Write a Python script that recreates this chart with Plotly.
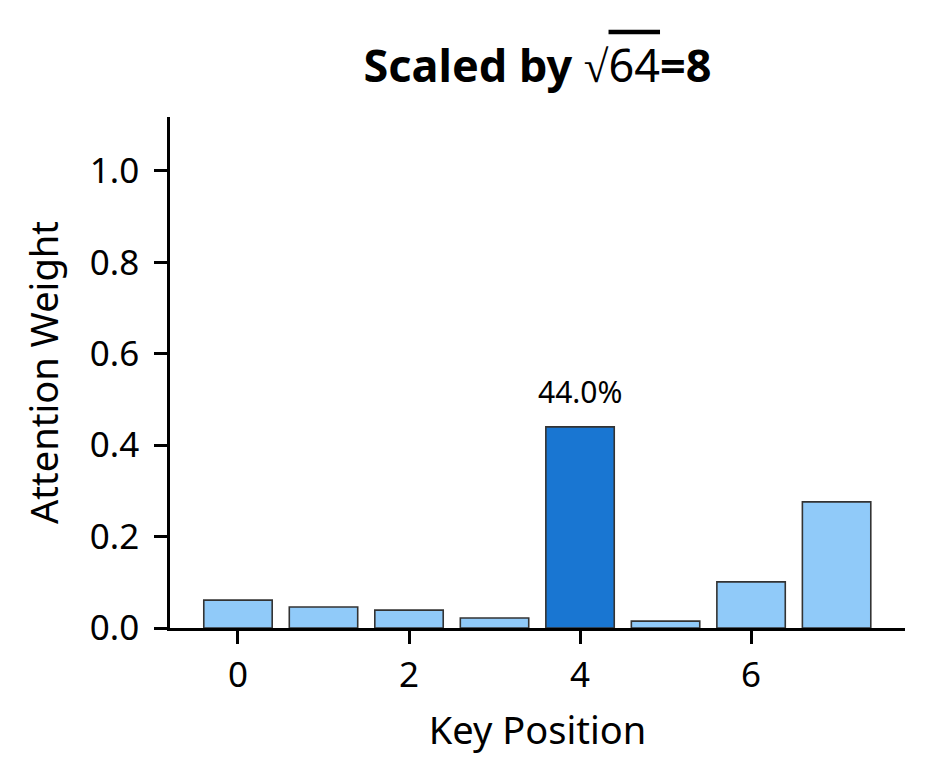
import plotly.graph_objects as go

positions = [0, 1, 2, 3, 4, 5, 6, 7]
weights = [0.061, 0.046, 0.039, 0.022, 0.440, 0.015, 0.101, 0.276]
highlight_index = 4
x_ticks = [0, 2, 4, 6]
y_ticks = [0.0, 0.2, 0.4, 0.6, 0.8, 1.0]

FONT = "Noto Sans"
light = "#90CAF9"
dark = "#1976D2"

colors = [dark if i == highlight_index else light for i in range(len(positions))]

# page body adds an 8px offset; figure is sized so the plot lands where the reference has it
W, H = 926, 776
L, T = 162, 109
R, B = 29, 156

fig = go.Figure()
fig.add_trace(go.Bar(
    x=positions, y=weights, width=0.8,
    marker=dict(color=colors, line=dict(color="#333333", width=1.6)),
))

fig.add_annotation(
    x=positions[highlight_index], y=weights[highlight_index],
    text=f"{weights[highlight_index]*100:.1f}%", showarrow=False,
    yanchor="bottom", yshift=13,
    font=dict(family=FONT, size=30, color="black"),
)

fig.update_layout(
    width=W, height=H,
    margin=dict(l=L, r=R, t=T, b=B),
    paper_bgcolor="white", plot_bgcolor="white",
    showlegend=False,
    font=dict(family=FONT, color="black"),
    title=dict(
        text="<b>Scaled by </b>√<span style='text-decoration:overline'>64</span><b>=8</b>",
        font=dict(family=FONT, size=45, color="black"),
        x=(L + (W - R)) / 2 / W, xanchor="center",
        y=1 - 58 / H, yanchor="middle", yref="container",
    ),
)
fig.update_xaxes(
    range=[-0.795, 7.80], tickvals=x_ticks, ticktext=[str(t) for t in x_ticks],
    showgrid=False, zeroline=False, showline=True, linecolor="black", linewidth=2.5,
    ticks="outside", ticklen=13, tickwidth=2.5, tickcolor="black",
    tickfont=dict(family=FONT, size=35), automargin=False, ticklabelstandoff=1,
    title=dict(text="Key Position", font=dict(family=FONT, size=38), standoff=22),
)
fig.update_yaxes(
    range=[0, 1.118], tickvals=y_ticks, ticktext=[f"{t:.1f}" for t in y_ticks],
    showgrid=False, zeroline=False, showline=True, linecolor="black", linewidth=2.5,
    ticks="outside", ticklen=13, tickwidth=2.5, tickcolor="black",
    tickfont=dict(family=FONT, size=35), automargin=False, ticklabelstandoff=8,
    title=dict(text="Attention Weight", font=dict(family=FONT, size=38), standoff=20),
)

fig.write_html("out.html")
